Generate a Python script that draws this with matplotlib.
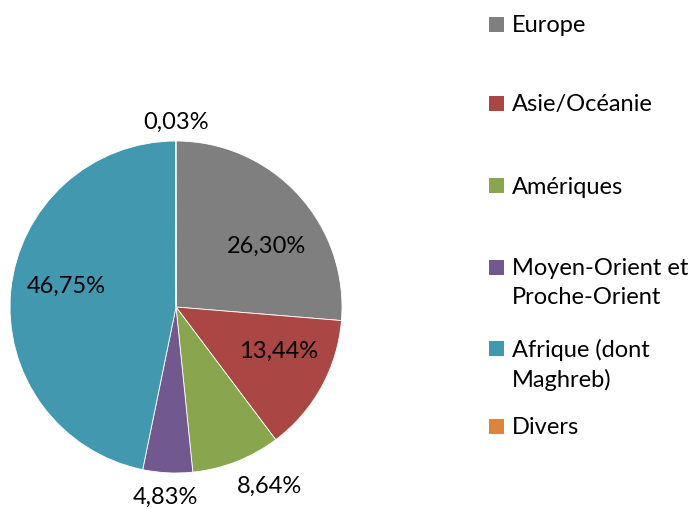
import numpy as np
import matplotlib
matplotlib.use("Agg")
import matplotlib.pyplot as plt
from matplotlib.patches import Rectangle

plt.rcParams['font.family'] = ['Lato', 'DejaVu Sans']

# data
regions = ["Europe", "Asie/Océanie", "Amériques",
           "Moyen-Orient et\nProche-Orient", "Afrique (dont\nMaghreb)", "Divers"]
shares = [26.30, 13.44, 8.64, 4.83, 46.75, 0.03]
share_labels = ["26,30%", "13,44%", "8,64%", "4,83%", "46,75%", "0,03%"]
colors = ["#7F7F7F", "#AA4643", "#89A54E", "#71588F", "#4198AF", "#DB843D"]

W, H = 694, 509
fig = plt.figure(figsize=(W / 100, H / 100), dpi=100)

# pie axes: center (176, 307), radius 166 px
cx, cy, r = 176, 307, 166
ax = fig.add_axes([(cx - r) / W, (H - cy - r) / H, 2 * r / W, 2 * r / H])
wedges, _ = ax.pie(shares, colors=colors, startangle=90, counterclock=False,
                   radius=1, wedgeprops=dict(edgecolor="white", linewidth=0.6))
ax.set_xlim(-1, 1)
ax.set_ylim(-1, 1)
ax.set_aspect("equal")
ax.axis("off")

# label distance (fraction of radius) and angular nudge (deg) for each slice
label_r = [0.655, 0.67, 1.22, 1.15, 0.675, 1.11]
label_shift = [-8.6, 5.6, 6.1, -0.4, -5.1, 0.0]
for w, txt, lr, sh in zip(wedges, share_labels, label_r, label_shift):
    ang = np.deg2rad((w.theta1 + w.theta2) / 2 + sh)
    ax.text(lr * np.cos(ang), lr * np.sin(ang), txt, ha="center", va="center",
            fontsize=17, color="black", clip_on=False)

# legend, drawn by hand to keep Excel-like uneven spacing
leg_y = [24.5, 103.5, 185.5, 267, 348, 426]
for y, name, c in zip(leg_y, regions, colors):
    fig.patches.append(Rectangle((489 / W, (H - y - 7.5) / H), 15 / W, 15 / H,
                                 transform=fig.transFigure, facecolor=c,
                                 edgecolor="none"))
    fig.text(512 / W, (H - y + 9) / H, name, ha="left", va="top",
             fontsize=17, linespacing=1.45)

fig.savefig("out.png", dpi=100)
